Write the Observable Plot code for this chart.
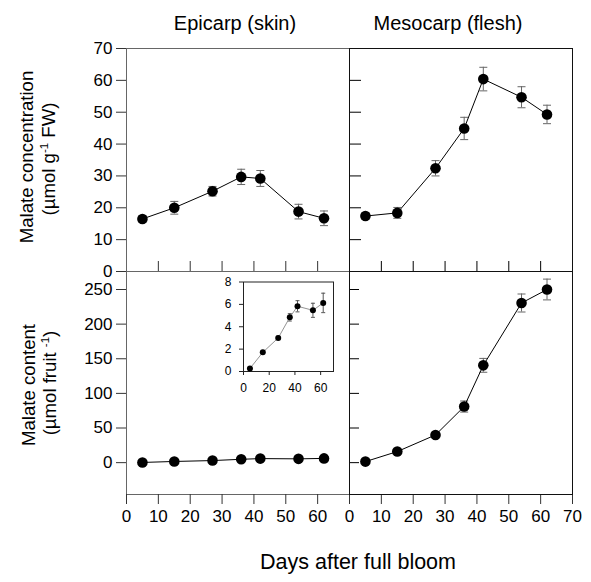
<!DOCTYPE html>
<html><head><meta charset="utf-8">
<script src="https://cdn.jsdelivr.net/npm/d3@7"></script>
<script src="https://cdn.jsdelivr.net/npm/@observablehq/plot@0.6"></script>
<style>
body{margin:0;background:#fff;}
#wrap{position:relative;width:591px;height:582px;font-family:"Liberation Sans",Arial,sans-serif;color:#000;overflow:hidden;}
#wrap svg{position:absolute;left:0;top:0;}
.t{position:absolute;white-space:nowrap;line-height:1;transform:translateX(-50%);}
.rot{position:absolute;white-space:nowrap;line-height:1;transform:translate(-50%,-50%) rotate(-90deg);}
sup{font-size:0.62em;line-height:0;vertical-align:0.55em;}
</style></head><body><div id="wrap"></div>
<script>
// ---- data ----
const days = [5, 15, 27, 36, 42, 54, 62];
const epiConc = [16.5, 20.0, 25.2, 29.7, 29.2, 18.8, 16.7];
const epiConcErr = [1.0, 2.0, 1.5, 2.4, 2.5, 2.3, 2.3];
const mesoConc = [17.4, 18.4, 32.4, 44.9, 60.4, 54.7, 49.3];
const mesoConcErr = [1.0, 1.7, 2.4, 3.5, 3.7, 3.3, 2.9];
const epiCont = [0.27, 1.71, 3.0, 4.84, 5.83, 5.47, 6.13];
const epiContErr = [0.1, 0.1, 0.15, 0.33, 0.5, 0.63, 0.87];
const mesoCont = [1.5, 16, 40, 81, 140.5, 230.5, 250];
const mesoContErr = [1, 2, 3, 8, 10, 13, 15];
const xTicks = [0, 10, 20, 30, 40, 50, 60, 70];
const concTicks = [0, 10, 20, 30, 40, 50, 60, 70];
const contTicks = [0, 50, 100, 150, 200, 250];
const insetXTicks = [0, 20, 40, 60];
const insetYTicks = [0, 2, 4, 6, 8];

// ---- layout ----
const W = 591, HT = 582;
const L = 126, M = 349, R = 572, T = 48, MID = 271, B = 494;
const font = "Liberation Sans, Arial, sans-serif";
const wrap = document.getElementById("wrap");

const rows = (vals, errs) => days.map((d, i) => ({day: d, v: vals[i], lo: vals[i] - errs[i], hi: vals[i] + errs[i]}));
const cap = {draw(ctx, size) { const w = Math.sqrt(size / Math.PI); ctx.moveTo(-w, 0); ctx.lineTo(w, 0); }};

function dataMarks(data, {r = 5.3, capR = 4, line = "#000", lw = 1, err = "#666"} = {}) {
  return [
    Plot.ruleX(data, {x: "day", y1: "lo", y2: "hi", stroke: err, strokeWidth: 1}),
    Plot.dot(data, {x: "day", y: "hi", symbol: cap, r: capR, stroke: err, fill: "none", strokeWidth: 1}),
    Plot.dot(data, {x: "day", y: "lo", symbol: cap, r: capR, stroke: err, fill: "none", strokeWidth: 1}),
    Plot.line(data, {x: "day", y: "v", stroke: line, strokeWidth: lw}),
    Plot.dot(data, {x: "day", y: "v", r, fill: "#000", stroke: "none"})
  ];
}

function panel({x0, x1, y0, y1, xDomain = [0, 70], yDomain, marks}) {
  const svg = Plot.plot({
    width: W, height: HT,
    marginLeft: x0, marginRight: W - x1, marginTop: y0, marginBottom: HT - y1,
    style: {background: "transparent", fontFamily: font, overflow: "visible", color: "#000"},
    x: {domain: xDomain, axis: null, label: null},
    y: {domain: yDomain, axis: null, label: null},
    marks
  });
  wrap.appendChild(svg);
}

// top-left: epicarp concentration
panel({x0: L, x1: M, y0: T, y1: MID, yDomain: [0, 70], marks: [
  Plot.frame({stroke: "#666"}),
  Plot.axisY(concTicks, {tickSize: 10, tickPadding: 4, fontSize: 17, label: null, stroke: "#333"}),
  Plot.ruleX(xTicks.slice(1, 7), {insetTop: (MID - T) - 10, stroke: "#333"}),
  ...dataMarks(rows(epiConc, epiConcErr))
]});

// bottom-left: epicarp content
panel({x0: L, x1: M, y0: MID, y1: B, yDomain: [-46, 276], marks: [
  Plot.frame({stroke: "#666"}),
  Plot.axisY(contTicks, {tickSize: 10, tickPadding: 4, fontSize: 17, label: null, stroke: "#333"}),
  Plot.axisX(xTicks.slice(0, 7), {anchor: "bottom", tickSize: 10, tickPadding: 5, fontSize: 17, label: null, stroke: "#333"}),
  ...dataMarks(rows(epiCont, epiContErr))
]});

// inset: epicarp content zoomed
panel({x0: 243, x1: 333, y0: 281.5, y1: 371, yDomain: [0, 8], marks: [
  Plot.frame({stroke: "#222"}),
  Plot.axisY(insetYTicks, {tickSize: 4, tickPadding: 8, fontSize: 12, label: null, stroke: "#222"}),
  Plot.axisX(insetXTicks, {anchor: "bottom", tickSize: 4, tickPadding: 8, fontSize: 12, label: null, stroke: "#222"}),
  ...dataMarks(rows(epiCont, epiContErr), {r: 3, capR: 2, line: "#777", lw: 0.8, err: "#555"})
]});

// top-right: mesocarp concentration
panel({x0: M, x1: R, y0: T, y1: MID, yDomain: [0, 70], marks: [
  Plot.ruleY(concTicks.slice(1, 7), {insetRight: (R - M) - 12, stroke: "#000"}),
  Plot.ruleX(xTicks.slice(1, 7), {insetTop: (MID - T) - 10, stroke: "#000"}),
  ...dataMarks(rows(mesoConc, mesoConcErr)),
  Plot.frame({stroke: "#111"})
]});

// bottom-right: mesocarp content
panel({x0: M, x1: R, y0: MID, y1: B, yDomain: [-46, 276], marks: [
  Plot.ruleY(contTicks, {insetRight: (R - M) - 10, stroke: "#000"}),
  Plot.axisX(xTicks, {anchor: "bottom", tickSize: 10, tickPadding: 5, fontSize: 17, label: null, stroke: "#333"}),
  ...dataMarks(rows(mesoCont, mesoContErr)),
  Plot.frame({stroke: "#111"})
]});

// ---- text ----
function addText(html, cls, styles) {
  const d = document.createElement("div");
  d.className = cls;
  d.innerHTML = html;
  Object.assign(d.style, styles);
  wrap.appendChild(d);
}
addText("Epicarp (skin)", "t", {left: "235px", top: "13px", fontSize: "20px"});
addText("Mesocarp (flesh)", "t", {left: "448px", top: "13px", fontSize: "20px"});
addText("Malate concentration", "rot", {left: "27px", top: "157px", fontSize: "18.6px"});
addText("(\u00b5mol g<sup>-1</sup> FW)", "rot", {left: "48.5px", top: "159px", fontSize: "18.6px"});
addText("Malate content", "rot", {left: "28.5px", top: "385px", fontSize: "18.6px"});
addText("(\u00b5mol fruit <sup>-1</sup>)", "rot", {left: "50px", top: "382.5px", fontSize: "18.6px"});
addText("Days after full bloom", "t", {left: "358px", top: "552px", fontSize: "21.5px"});
</script>
</body></html>
